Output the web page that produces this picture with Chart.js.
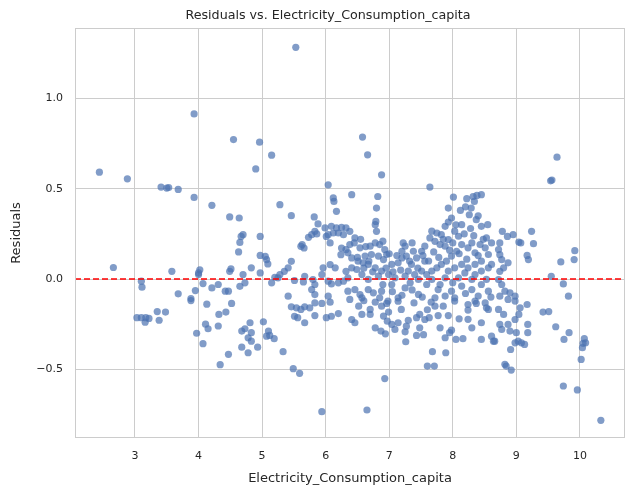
<!DOCTYPE html>
<html>
<head>
<meta charset="utf-8">
<script src="https://cdn.jsdelivr.net/npm/chart.js@4"></script>
<style>
  body { margin: 0; background: #fff; }
  canvas { display: block; }
</style>
</head>
<body>
<canvas id="residPlot" width="625" height="492"></canvas>
<script>
// residuals vs electricity consumption
var consumption = [
  3.93, 5.53, 4.55, 4.96, 5.15, 6.58, 6.66, 9.64,
  2.44, 2.88, 3.41, 3.50, 3.53, 3.68, 3.93, 4.21, 2.66, 3.58, 4.02, 4.00, 4.00, 3.10, 3.11, 4.07, 4.21, 3.68, 3.95, 3.88,
  3.03, 3.10, 3.17, 3.22, 3.16, 3.35, 3.48, 3.38, 3.88, 4.13, 4.11, 4.15, 3.97, 4.07,
  4.52, 4.43, 4.32, 4.31, 4.47, 4.34, 4.68, 4.73, 4.83, 4.81, 4.78, 4.83, 4.68, 4.78, 4.93, 5.02, 5.10, 5.12, 5.19, 5.07,
  5.33, 5.49, 5.59, 5.94, 5.46, 5.54, 5.61, 5.67, 5.75, 5.83, 5.94, 6.07, 5.51, 5.56, 5.67, 5.83, 6.01, 6.09, 6.20, 6.41, 6.46,
  6.93, 6.65, 7.60, 7.71, 7.68, 7.89, 7.26, 7.43, 7.54, 6.94, 6.87, 6.78, 7.25, 7.09, 7.14, 6.97, 7.04, 6.52, 6.70, 6.70,
  6.78, 6.88, 6.96, 6.99, 7.14, 7.19, 7.30, 7.27, 7.43, 7.48, 7.56, 7.63, 7.77, 7.85, 7.93, 8.05, 8.16, 7.88, 7.95, 7.98,
  8.24, 8.45, 8.45, 8.61, 8.64, 8.37, 8.53, 8.51, 7.39, 7.66, 6.98, 7.72, 8.24, 6.57, 6.91, 7.48, 8.24,
  8.03, 8.56, 8.35, 8.87, 8.98, 6.46, 6.54, 6.38,
  10.33, 9.74, 9.96, 10.02, 10.04, 10.05, 10.07, 10.09, 9.83, 9.75, 9.62, 9.42, 9.51, 9.17, 8.82, 8.84, 8.92, 8.91,
  8.72, 8.80, 8.74, 8.77, 8.87, 8.90, 8.98, 9.00, 9.04, 9.06, 9.03, 9.08, 8.98, 9.13, 9.18, 9.18, 8.66,
  9.54, 9.56, 9.24, 9.27, 9.17, 9.19, 9.04, 9.07, 8.95, 8.86, 8.78, 8.74, 8.72, 8.74, 8.77, 8.87, 8.80, 8.74,
  9.92, 9.91, 9.70, 9.55, 9.74, 9.82, 8.72, 8.77, 8.82, 8.90, 8.98, 8.74,
  4.90, 5.28, 5.46, 4.49, 4.64, 6.04, 6.12, 6.13, 6.17, 6.41, 4.70, 4.67, 4.65, 4.63, 4.97,
  5.82, 5.88, 5.83, 5.78, 5.73, 5.86, 5.63, 5.66, 5.61, 5.99, 6.04, 6.07, 6.01,
  6.09, 6.17, 6.25, 6.32, 6.38, 6.12, 6.20, 6.28, 6.38, 6.32, 6.25, 6.24, 6.35, 6.41,
  4.97, 5.05, 5.09, 5.07, 5.46, 5.41, 5.35, 5.28, 5.20, 5.15, 4.97, 4.83, 4.70, 4.51, 4.49,
  4.73, 4.65, 4.47, 4.42, 4.31, 5.41, 5.67, 5.80, 5.83, 5.78, 5.94, 5.96, 6.07, 6.15,
  5.25, 5.51, 5.65, 6.04, 6.09, 6.20, 6.28, 6.35, 6.32, 6.41, 6.35, 5.83, 6.04,
  6.88, 7.64, 6.82, 6.80, 6.79, 6.78, 6.80, 8.01, 7.93, 7.98, 7.93, 7.88,
  8.22, 8.32, 8.38, 8.45, 8.34, 8.29, 8.26, 8.37, 8.45, 8.55, 8.53, 8.61,
  6.46, 6.54, 6.70, 6.78, 6.85, 6.93, 6.96, 6.91, 6.83, 6.72, 6.62, 6.59, 6.51, 6.67, 6.78, 6.88, 6.99,
  7.04, 7.14, 7.20, 7.25, 7.20, 7.27, 7.38, 7.43, 7.35, 7.30, 7.40, 7.51, 7.56, 7.51, 7.56,
  7.67, 7.75, 7.82, 7.64, 7.72, 7.80, 7.88, 7.93, 8.03, 8.09, 8.14, 8.14, 8.06, 7.98, 7.90, 7.82, 7.75, 7.67, 7.59,
  8.24, 8.30, 8.35, 8.43, 8.51, 8.56, 8.45, 8.35, 8.24, 8.14, 8.03, 7.93, 8.19, 8.35, 8.45, 8.56, 8.61, 8.30, 8.53,
  6.57, 6.49, 6.67, 6.83, 7.09, 7.25, 7.46, 7.67, 7.88, 8.09,
  6.67, 6.75, 6.88, 7.04, 7.14, 7.25, 7.33, 7.46, 7.59, 7.77, 7.88, 7.98, 8.14, 8.30, 8.40, 8.56, 6.85, 6.57, 7.72, 8.03,
  6.45, 6.50, 6.55, 6.60, 6.63, 6.68, 6.74, 6.90, 6.95, 7.00, 7.06, 7.12, 7.18, 7.22, 7.32, 7.36, 7.45,
  7.53, 7.62, 7.70, 7.78, 7.85, 7.95, 8.00, 8.05, 8.10, 8.18, 8.22, 8.28, 8.33, 8.40, 8.48, 8.40, 8.12, 8.20,
  7.05, 7.20, 7.36, 7.52, 7.80, 8.00, 8.20, 8.45, 8.60, 8.10, 8.30, 7.80, 7.60, 6.90, 6.60
];
var residuals = [
  0.914, 1.283, 0.772, 0.758, 0.686, 0.786, 0.688, 0.675,
  0.592, 0.555, 0.509, 0.504, 0.507, 0.496, 0.452, 0.408, 0.064, 0.043, 0.051, 0.034, 0.025, -0.012, -0.045, -0.025, -0.049, -0.082, -0.064, -0.108,
  -0.214, -0.214, -0.214, -0.218, -0.239, -0.180, -0.183, -0.228, -0.119, -0.139, -0.250, -0.275, -0.300, -0.358,
  -0.135, -0.183, -0.196, -0.260, -0.417, -0.474, -0.288, -0.275, -0.297, -0.242, -0.325, -0.344, -0.377, -0.408, -0.377, -0.237, -0.288, -0.312, -0.330, -0.316,
  -0.402, -0.496, -0.522, -0.734, -0.154, -0.159, -0.168, -0.154, -0.159, -0.132, -0.135, -0.128, -0.206, -0.214, -0.242, -0.202, -0.214, -0.206, -0.191, -0.224, -0.242,
  -0.551, -0.725, -0.482, -0.482, -0.402, -0.408, -0.347, -0.312, -0.308, -0.303, -0.288, -0.270, -0.292, -0.279, -0.242, -0.233, -0.251, -0.150, -0.168, -0.196,
  -0.128, -0.150, -0.135, -0.183, -0.123, -0.168, -0.228, -0.261, -0.214, -0.196, -0.224, -0.214, -0.202, -0.150, -0.202, -0.334, -0.330, -0.325, -0.297, -0.283,
  -0.172, -0.242, -0.334, -0.316, -0.344, -0.135, -0.159, -0.132, -0.132, -0.128, -0.122, -0.150, -0.141, -0.196, -0.205, -0.270, -0.223,
  -0.122, -0.168, -0.122, -0.113, -0.122, -0.058, -0.086, -0.113,
  -0.782, -0.592, -0.614, -0.445, -0.380, -0.356, -0.330, -0.353, -0.297, -0.334, -0.264, -0.183, -0.180, -0.141, -0.472, -0.482, -0.504, -0.390,
  -0.168, -0.196, -0.251, -0.279, -0.251, -0.288, -0.224, -0.297, -0.196, -0.159, -0.344, -0.353, -0.353, -0.362, -0.251, -0.297, -0.344,
  0.544, 0.548, 0.264, 0.196, 0.131, 0.108, 0.205, 0.200, 0.246, 0.236, 0.264, 0.200, 0.163, 0.135, 0.108, 0.090, 0.062, 0.043,
  0.157, 0.108, 0.095, 0.015, -0.027, -0.095, -0.003, -0.030, -0.067, -0.076, -0.095, -0.095,
  0.610, 0.412, 0.351, 0.344, 0.338, 0.522, 0.449, 0.430, 0.375, 0.467, 0.246, 0.236, 0.203, 0.150, 0.236,
  0.344, 0.305, 0.264, 0.246, 0.231, 0.250, 0.191, 0.172, 0.181, 0.283, 0.246, 0.200, 0.236,
  0.292, 0.283, 0.286, 0.283, 0.264, 0.255, 0.255, 0.246, 0.191, 0.163, 0.172, 0.135, 0.145, 0.117,
  0.131, 0.126, 0.084, 0.108, 0.098, 0.062, 0.043, 0.025, 0.010, -0.021, 0.034, 0.062, 0.025, 0.056, 0.043,
  -0.021, -0.040, -0.067, -0.067, -0.030, -0.095, 0.015, -0.003, -0.030, -0.058, 0.025, 0.062, 0.080, 0.062,
  0.007, -0.008, -0.016, -0.012, -0.027, -0.021, -0.012, 0.007, 0.043, 0.062, -0.067, -0.086, -0.095,
  0.577, 0.509, 0.457, 0.393, 0.319, 0.301, 0.264, 0.454, 0.393, 0.338, 0.316, 0.292,
  0.445, 0.457, 0.463, 0.467, 0.430, 0.393, 0.356, 0.329, 0.292, 0.301, 0.228, 0.200,
  0.228, 0.173, 0.182, 0.200, 0.191, 0.163, 0.136, 0.108, 0.127, 0.136, 0.127, 0.090, 0.099, 0.081, 0.062, 0.044, 0.025,
  0.081, 0.090, 0.154, 0.182, 0.117, 0.127, 0.154, 0.117, 0.081, 0.044, 0.025, 0.044, 0.099, 0.154, 0.182,
  0.265, 0.255, 0.246, 0.228, 0.209, 0.191, 0.182, 0.219, 0.265, 0.237, 0.301, 0.191, 0.154, 0.127, 0.099, 0.081, 0.062, 0.044, 0.025,
  0.173, 0.200, 0.145, 0.191, 0.173, 0.136, 0.099, 0.081, 0.062, 0.081, 0.062, 0.044, 0.034, 0.025, 0.044, 0.062, 0.081, -0.002, -0.002,
  0.025, 0.053, -0.002, 0.016, 0.007, 0.016, -0.002, -0.002, 0.007, 0.007,
  -0.058, -0.076, -0.067, -0.030, -0.104, -0.049, -0.021, -0.085, -0.030, -0.058, -0.094, -0.067, -0.039, -0.058, -0.094, -0.067, -0.104, -0.104, -0.104, -0.104,
  0.20, 0.12, 0.22, 0.06, 0.18, 0.10, 0.04, 0.21, 0.06, 0.14, 0.04, 0.13, 0.05, 0.20, 0.10, 0.20, 0.06,
  0.13, 0.10, 0.15, 0.12, 0.22, 0.16, 0.20, 0.30, 0.14, 0.25, 0.11, 0.28, 0.24, 0.13, 0.22, 0.35, 0.38, 0.40,
  -0.07, -0.09, -0.06, -0.10, -0.03, -0.02, -0.08, -0.03, -0.10, -0.22, -0.27, -0.27, -0.17, -0.03, -0.12
];

var xTicks = [3, 4, 5, 6, 7, 8, 9, 10];
var yTicks = [-0.5, 0, 0.5, 1.0];
var yTickLabels = ['\u22120.5', '0.0', '0.5', '1.0'];
var chartTitle = 'Residuals vs. Electricity_Consumption_capita';

var points = consumption.map(function (c, i) { return { x: c, y: residuals[i] }; });

var gridCol = '#cccccc';
var textCol = '#262626';
var fontFam = "'DejaVu Sans', sans-serif";

// title, axes frame + red dashed zero line
var framePlugin = {
  id: 'frame',
  afterDatasetsDraw: function (chart) {
    var ctx = chart.ctx, a = chart.chartArea;
    var y0 = chart.scales.y.getPixelForValue(0);
    ctx.save();
    ctx.strokeStyle = 'red';
    ctx.lineWidth = 1.5;
    ctx.setLineDash([6, 3]);
    ctx.beginPath();
    ctx.moveTo(a.left, y0);
    ctx.lineTo(a.right, y0);
    ctx.stroke();
    ctx.setLineDash([]);
    ctx.strokeStyle = gridCol;
    ctx.lineWidth = 1;
    ctx.strokeRect(a.left + 0.5, a.top + 0.5, a.right - a.left - 1, a.bottom - a.top - 1);
    ctx.fillStyle = textCol;
    ctx.font = '12.7px ' + fontFam;
    ctx.textAlign = 'center';
    ctx.textBaseline = 'middle';
    ctx.fillText(chartTitle, 328, 16);
    ctx.restore();
  }
};

new Chart(document.getElementById('residPlot'), {
  type: 'scatter',
  data: {
    datasets: [{
      label: 'Residuals',
      data: points,
      backgroundColor: 'rgba(76, 114, 176, 0.7)',
      borderWidth: 0,
      pointRadius: 3.6
    }]
  },
  options: {
    responsive: false,
    animation: false,
    devicePixelRatio: 1,
    layout: { autoPadding: false, padding: { left: 0, right: 0, top: 28, bottom: 0 } },
    plugins: {
      legend: { display: false },
      tooltip: { enabled: false },
      title: { display: false }
    },
    scales: {
      x: {
        type: 'linear',
        min: 2.056,
        max: 10.71,
        afterBuildTicks: function (s) { s.ticks = xTicks.map(function (v) { return { value: v }; }); },
        afterFit: function (s) { s.height = 54; s.paddingLeft = 0; s.paddingRight = 0; },
        grid: { color: gridCol, drawTicks: false },
        border: { display: false },
        ticks: { color: textCol, font: { family: fontFam, size: 11 }, padding: 12, maxRotation: 0 },
        title: {
          display: true,
          text: 'Electricity_Consumption_capita',
          color: textCol,
          font: { family: fontFam, size: 13 },
          padding: { top: 0, bottom: 6 }
        }
      },
      y: {
        type: 'linear',
        min: -0.88,
        max: 1.39,
        afterBuildTicks: function (s) { s.ticks = yTicks.map(function (v) { return { value: v }; }); },
        afterFit: function (s) { s.width = 75; s.paddingTop = 0; s.paddingBottom = 0; },
        grid: { color: gridCol, drawTicks: false },
        border: { display: false },
        ticks: {
          color: textCol,
          font: { family: fontFam, size: 11 },
          padding: 12,
          callback: function (v) { return yTickLabels[yTicks.indexOf(v)]; }
        },
        title: {
          display: true,
          text: 'Residuals',
          color: textCol,
          font: { family: fontFam, size: 13 },
          padding: { top: 9, bottom: 0 }
        }
      }
    }
  },
  plugins: [framePlugin]
});
</script>
</body>
</html>
